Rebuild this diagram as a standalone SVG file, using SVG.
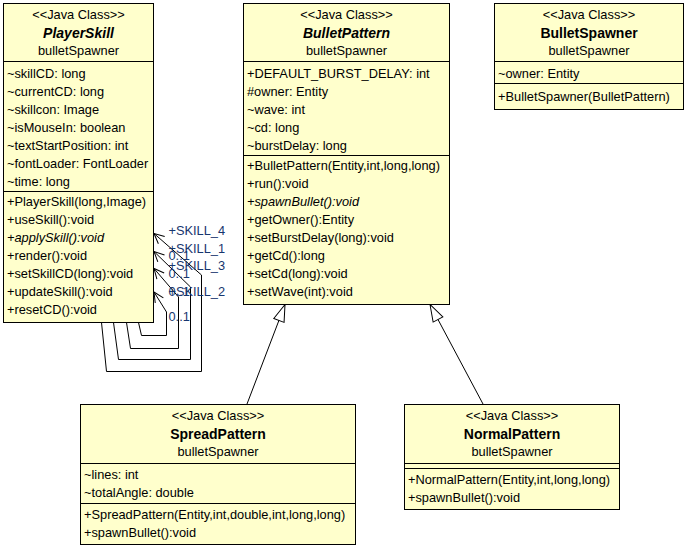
<svg xmlns="http://www.w3.org/2000/svg" width="685" height="549" viewBox="0 0 685 549">
<style>
text{font-family:"Liberation Sans",Arial,sans-serif;font-size:12.8px;fill:#000}
.box{fill:#ffffcc;stroke:#000;stroke-width:1}
.sep{stroke:#000;stroke-width:1}
.st{text-anchor:middle}
.nm{text-anchor:middle;font-size:14px;font-weight:bold}
.ab{font-style:italic}
.ln{fill:none;stroke:#000;stroke-width:1}
.lbl{fill:#17366e}
</style>
<defs>
<marker id="gen" markerUnits="userSpaceOnUse" viewBox="-19 -8 21 16" markerWidth="21" markerHeight="16" refX="0" refY="0" orient="auto" overflow="visible">
<path d="M0,0 L-17,-5.5 L-17,5.5 Z" fill="#fff" stroke="#000" stroke-width="1"/>
</marker>
<marker id="open" markerUnits="userSpaceOnUse" viewBox="-12 -6 14 12" markerWidth="14" markerHeight="12" refX="0" refY="0" orient="auto" overflow="visible">
<path d="M-10,-4.8 L0,0 L-10,4.8" fill="none" stroke="#000" stroke-width="1"/>
</marker>
</defs>

<g id="connectors">
<path class="ln" d="M247,404 L285,304.5" marker-end="url(#gen)"/>
<path class="ln" d="M483,404 L430,304.5" marker-end="url(#gen)"/>
<path class="ln" d="M101.5,322.5 L106.5,371.5 L201.5,371.5 L201.5,275 L154,233.5" marker-end="url(#open)"/>
<path class="ln" d="M113.5,322.5 L118.5,359.5 L190.5,359.5 L190.5,287 L154,251.5" marker-end="url(#open)"/>
<path class="ln" d="M126.5,322.5 L130.5,348.5 L178.5,348.5 L178.5,297 L154,268.5" marker-end="url(#open)"/>
<path class="ln" d="M138.5,322.5 L141.5,335.5 L166.5,335.5 L166.5,312 L154,292" marker-end="url(#open)"/>
<text class="lbl" x="168.5" y="235">+SKILL_4</text>
<text class="lbl" x="168.5" y="252.5">+SKILL_1</text>
<text class="lbl" x="168.5" y="270">+SKILL_3</text>
<text class="lbl" x="168.5" y="296">+SKILL_2</text>
<text class="lbl" x="168.5" y="260">0..1</text>
<text class="lbl" x="168.5" y="277.5">0..1</text>
<text class="lbl" x="168.5" y="296">0..1</text>
<text class="lbl" x="168.5" y="321">0..1</text>
</g>

<g id="PlayerSkill">
<rect class="box" x="3.5" y="3.5" width="150" height="319"/>
<line class="sep" x1="3.5" y1="61.5" x2="153.5" y2="61.5"/>
<line class="sep" x1="3.5" y1="191.5" x2="153.5" y2="191.5"/>
<text class="st" x="78.5" y="18.5">&lt;&lt;Java Class&gt;&gt;</text>
<text class="nm ab" x="78.5" y="38">PlayerSkill</text>
<text class="st" x="78.5" y="54.5">bulletSpawner</text>
<text x="7" y="77.5">~skillCD: long</text>
<text x="7" y="95.5">~currentCD: long</text>
<text x="7" y="113.5">~skillcon: Image</text>
<text x="7" y="131.5">~isMouseIn: boolean</text>
<text x="7" y="149.5">~textStartPosition: int</text>
<text x="7" y="167.5">~fontLoader: FontLoader</text>
<text x="7" y="185.5">~time: long</text>
<text x="7" y="206">+PlayerSkill(long,Image)</text>
<text x="7" y="224">+useSkill():void</text>
<text class="ab" x="7" y="242">+applySkill():void</text>
<text x="7" y="260">+render():void</text>
<text x="7" y="278">+setSkillCD(long):void</text>
<text x="7" y="296">+updateSkill():void</text>
<text x="7" y="314">+resetCD():void</text>
</g>

<g id="BulletPattern">
<rect class="box" x="243.5" y="3.5" width="206" height="301"/>
<line class="sep" x1="243.5" y1="61.5" x2="449.5" y2="61.5"/>
<line class="sep" x1="243.5" y1="155.5" x2="449.5" y2="155.5"/>
<text class="st" x="346.5" y="18.5">&lt;&lt;Java Class&gt;&gt;</text>
<text class="nm ab" x="346.5" y="38">BulletPattern</text>
<text class="st" x="346.5" y="54.5">bulletSpawner</text>
<text x="247" y="77.5">+DEFAULT_BURST_DELAY: int</text>
<text x="247" y="95.5">#owner: Entity</text>
<text x="247" y="113.5">~wave: int</text>
<text x="247" y="131.5">~cd: long</text>
<text x="247" y="149.5">~burstDelay: long</text>
<text x="247" y="170">+BulletPattern(Entity,int,long,long)</text>
<text x="247" y="188">+run():void</text>
<text class="ab" x="247" y="206">+spawnBullet():void</text>
<text x="247" y="224">+getOwner():Entity</text>
<text x="247" y="242">+setBurstDelay(long):void</text>
<text x="247" y="260">+getCd():long</text>
<text x="247" y="278">+setCd(long):void</text>
<text x="247" y="296">+setWave(int):void</text>
</g>

<g id="BulletSpawner">
<rect class="box" x="494.5" y="3.5" width="189" height="106"/>
<line class="sep" x1="494.5" y1="61.5" x2="683.5" y2="61.5"/>
<line class="sep" x1="494.5" y1="83.5" x2="683.5" y2="83.5"/>
<text class="st" x="589" y="18.5">&lt;&lt;Java Class&gt;&gt;</text>
<text class="nm" x="589" y="38">BulletSpawner</text>
<text class="st" x="589" y="54.5">bulletSpawner</text>
<text x="498" y="77.5">~owner: Entity</text>
<text x="498" y="101">+BulletSpawner(BulletPattern)</text>
</g>

<g id="SpreadPattern">
<rect class="box" x="80.5" y="404.5" width="275" height="140"/>
<line class="sep" x1="80.5" y1="463.5" x2="355.5" y2="463.5"/>
<line class="sep" x1="80.5" y1="503.5" x2="355.5" y2="503.5"/>
<text class="st" x="218" y="419.5">&lt;&lt;Java Class&gt;&gt;</text>
<text class="nm" x="218" y="439">SpreadPattern</text>
<text class="st" x="218" y="455.5">bulletSpawner</text>
<text x="84" y="479">~lines: int</text>
<text x="84" y="497">~totalAngle: double</text>
<text x="84" y="519">+SpreadPattern(Entity,int,double,int,long,long)</text>
<text x="84" y="537">+spawnBullet():void</text>
</g>

<g id="NormalPattern">
<rect class="box" x="404.5" y="404.5" width="215" height="105"/>
<line class="sep" x1="404.5" y1="463.5" x2="619.5" y2="463.5"/>
<line class="sep" x1="404.5" y1="468.5" x2="619.5" y2="468.5"/>
<text class="st" x="512" y="419.5">&lt;&lt;Java Class&gt;&gt;</text>
<text class="nm" x="512" y="439">NormalPattern</text>
<text class="st" x="512" y="455.5">bulletSpawner</text>
<text x="408" y="484">+NormalPattern(Entity,int,long,long)</text>
<text x="408" y="502">+spawnBullet():void</text>
</g>
</svg>
